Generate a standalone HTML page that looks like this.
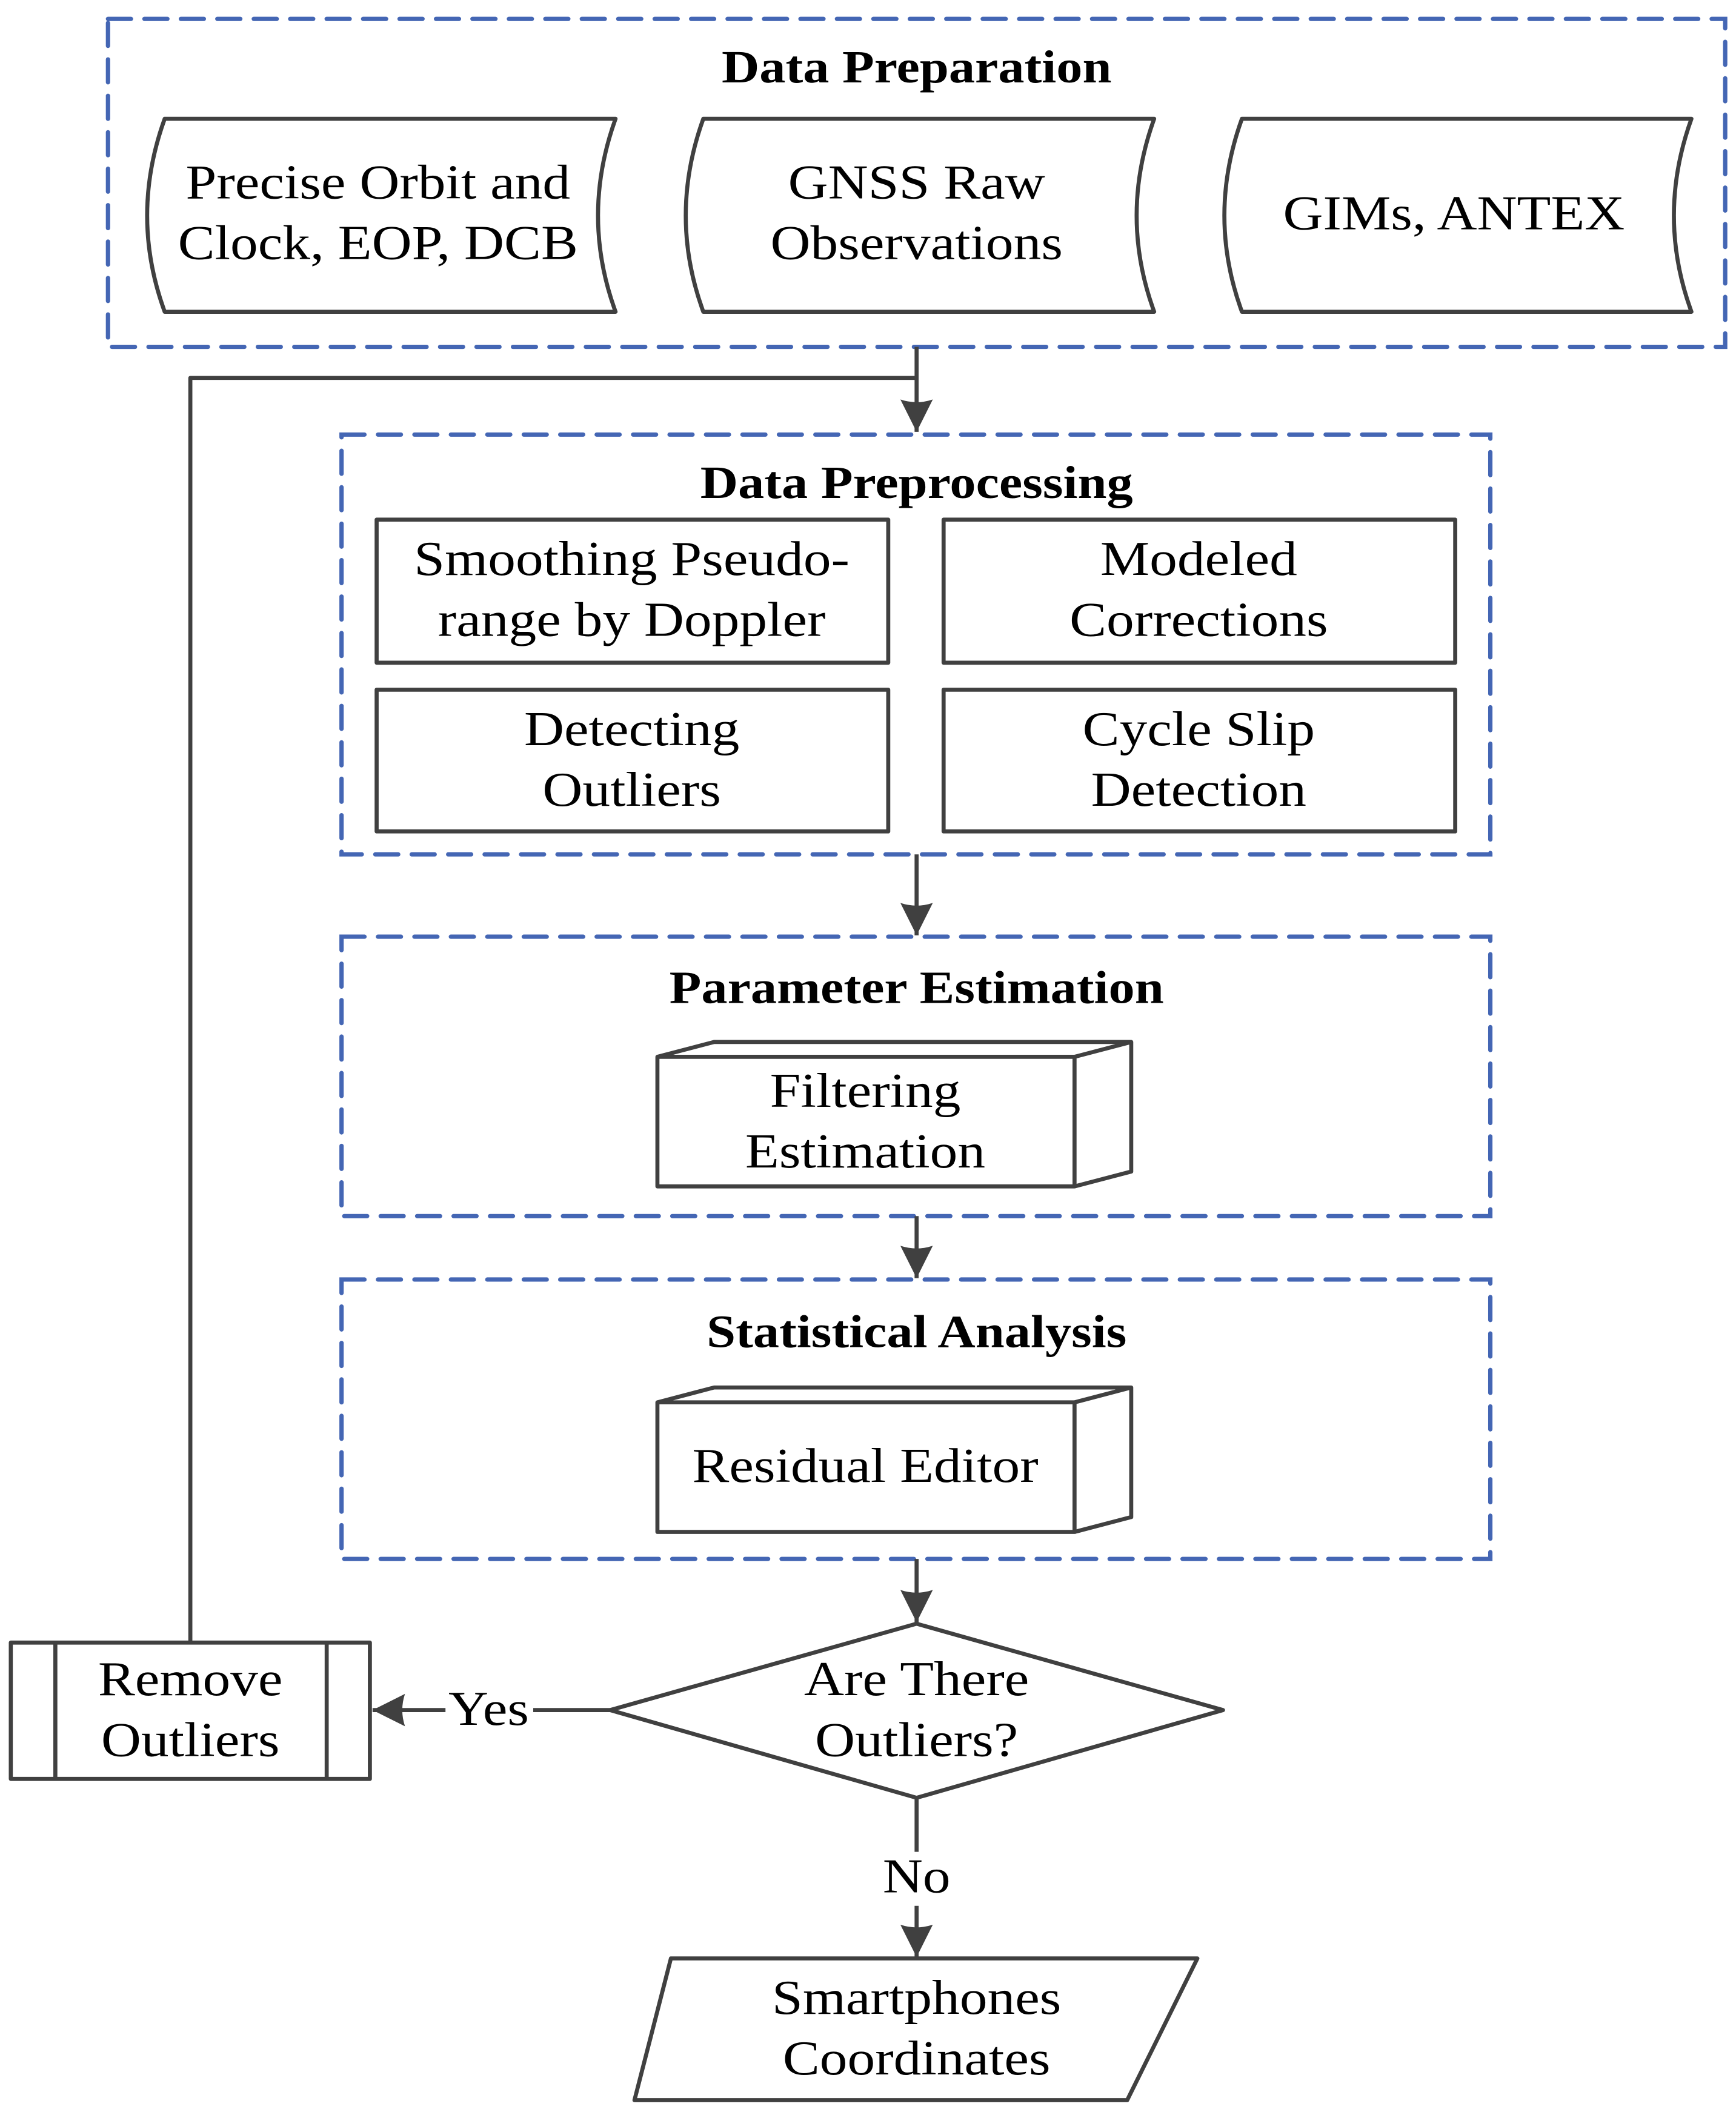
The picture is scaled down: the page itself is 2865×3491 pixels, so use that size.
<!DOCTYPE html>
<html><head><meta charset="utf-8"><style>
html,body{margin:0;padding:0;background:#fff;}
svg{display:block;}
text{font-family:"Liberation Serif",serif;fill:#000;}
</style></head><body>
<svg width="2865" height="3491" viewBox="0 0 1286 1567" xmlns="http://www.w3.org/2000/svg">
<defs>
<marker id="ah" viewBox="0 0 26 26" refX="25" refY="13" markerWidth="26" markerHeight="26" markerUnits="userSpaceOnUse" orient="auto">
<path d="M25,13 L1,1 Q5,13 1,25 Z" fill="#404040"/>
</marker>
</defs>
<g fill="none" stroke="#4466b4" stroke-width="3.2" stroke-dasharray="17,10" stroke-linecap="round">
<rect x="80" y="14" width="1198" height="243"/>
<rect x="253" y="322" width="851" height="311"/>
<rect x="253" y="694" width="851" height="207"/>
<rect x="253" y="948" width="851" height="207"/>
</g>
<g fill="none" stroke="#404040" stroke-width="3" stroke-linejoin="round">
<path d="M122,88 L456,88 Q430,160 456,231 L122,231 Q96,160 122,88 Z"/>
<path d="M521,88 L855,88 Q829,160 855,231 L521,231 Q495,160 521,88 Z"/>
<path d="M920,88 L1253,88 Q1227,160 1253,231 L920,231 Q894,160 920,88 Z"/>
<rect x="279" y="385" width="379" height="106"/>
<rect x="699" y="385" width="379" height="106"/>
<rect x="279" y="511" width="379" height="105"/>
<rect x="699" y="511" width="379" height="105"/>
<rect x="487" y="783" width="309" height="96"/>
<path d="M487,783 L529,772 L838,772 L838,868 L796,879 M796,783 L838,772"/>
<rect x="487" y="1039" width="309" height="96"/>
<path d="M487,1039 L529,1028 L838,1028 L838,1124 L796,1135 M796,1039 L838,1028"/>
<path d="M679,1203 L906,1267 L679,1332 L452,1267 Z"/>
<rect x="8" y="1217" width="266" height="101"/>
<path d="M41,1217 V1318 M242,1217 V1318"/>
<path d="M497,1451 L887,1451 L835,1556 L470,1556 Z"/>
<path d="M141,1217 V280 H679"/>
<path d="M679,257 V320" marker-end="url(#ah)"/>
<path d="M679,633 V693" marker-end="url(#ah)"/>
<path d="M679,901 V947" marker-end="url(#ah)"/>
<path d="M679,1155 V1202" marker-end="url(#ah)"/>
<path d="M452,1267 H395"/>
<path d="M330,1267 H276" marker-end="url(#ah)"/>
<path d="M679,1332 V1372"/>
<path d="M679,1412 V1450" marker-end="url(#ah)"/>
</g>
<g font-size="34" font-weight="bold" text-anchor="middle">
<text transform="translate(679 61) scale(1.14 1)">Data Preparation</text>
<text transform="translate(679 369) scale(1.14 1)">Data Preprocessing</text>
<text transform="translate(679 743) scale(1.14 1)">Parameter Estimation</text>
<text transform="translate(679 998) scale(1.14 1)">Statistical Analysis</text>
</g>
<g font-size="36" text-anchor="middle">
<text transform="translate(280 147) scale(1.14 1)">Precise Orbit and</text>
<text transform="translate(280 192) scale(1.14 1)">Clock, EOP, DCB</text>
<text transform="translate(679 147) scale(1.14 1)">GNSS Raw</text>
<text transform="translate(679 192) scale(1.14 1)">Observations</text>
<text transform="translate(1077 170) scale(1.14 1)">GIMs, ANTEX</text>
<text transform="translate(468 426) scale(1.14 1)">Smoothing Pseudo-</text>
<text transform="translate(468 471) scale(1.14 1)">range by Doppler</text>
<text transform="translate(888 426) scale(1.14 1)">Modeled</text>
<text transform="translate(888 471) scale(1.14 1)">Corrections</text>
<text transform="translate(468 552) scale(1.14 1)">Detecting</text>
<text transform="translate(468 597) scale(1.14 1)">Outliers</text>
<text transform="translate(888 552) scale(1.14 1)">Cycle Slip</text>
<text transform="translate(888 597) scale(1.14 1)">Detection</text>
<text transform="translate(641 820) scale(1.14 1)">Filtering</text>
<text transform="translate(641 865) scale(1.14 1)">Estimation</text>
<text transform="translate(641 1098) scale(1.14 1)">Residual Editor</text>
<text transform="translate(679 1256) scale(1.14 1)">Are There</text>
<text transform="translate(679 1301) scale(1.14 1)">Outliers?</text>
<text transform="translate(141 1256) scale(1.14 1)">Remove</text>
<text transform="translate(141 1301) scale(1.14 1)">Outliers</text>
<text transform="translate(362 1278) scale(1.14 1)">Yes</text>
<text transform="translate(679 1402) scale(1.14 1)">No</text>
<text transform="translate(679 1492) scale(1.14 1)">Smartphones</text>
<text transform="translate(679 1537) scale(1.14 1)">Coordinates</text>
</g>
</svg>
</body></html>
